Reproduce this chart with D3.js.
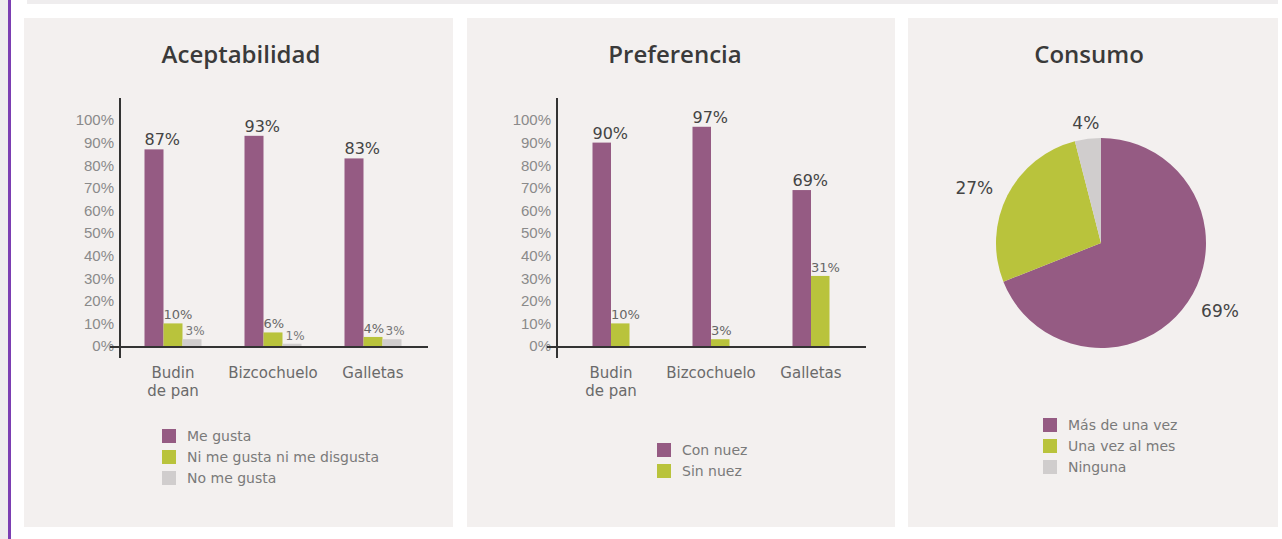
<!DOCTYPE html>
<html>
<head>
<meta charset="utf-8">
<script src="https://cdnjs.cloudflare.com/ajax/libs/d3/7.8.5/d3.min.js"></script>
<style>
body { margin: 0; background: #fff; }
svg { display: block; font-family: "DejaVu Sans", sans-serif; }
.title { font-family: "Open Sans", sans-serif; font-weight: 600; font-size: 24px; fill: #3a3a3a; }
.tick text { font-size: 15px; fill: #8a8a8a; }
.cat { font-size: 15px; fill: #6a6a6a; }
.legend text { font-size: 14px; fill: #7a7a7a; }
.pielabel { font-size: 17px; fill: #444; }
</style>
</head>
<body>
<svg id="chart" width="1282" height="539"></svg>
<script>
var categories = ["Budin de pan", "Bizcochuelo", "Galletas"];
var yTicks = [0, 10, 20, 30, 40, 50, 60, 70, 80, 90, 100];

var aceptSeries = ["Me gusta", "Ni me gusta ni me disgusta", "No me gusta"];
var meGusta = [87, 93, 83];
var niMeGusta = [10, 6, 4];
var noMeGusta = [3, 1, 3];

var prefSeries = ["Con nuez", "Sin nuez"];
var conNuez = [90, 97, 69];
var sinNuez = [10, 3, 31];

var consumoLabels = ["Más de una vez", "Una vez al mes", "Ninguna"];
var consumo = [69, 27, 4];

var colors = ["#955b83", "#b9c33c", "#d0cdcd"];
var labelSizes = ["16px", "13px", "12px"];
var labelFills = ["#444", "#666", "#777"];

var svg = d3.select("#chart");

// page decoration: grey strip + purple rule on the left, band on top
svg.append("rect").attr("x", 0).attr("y", 0).attr("width", 8).attr("height", 539).attr("fill", "#eeecee");
svg.append("rect").attr("x", 8).attr("y", 0).attr("width", 3).attr("height", 539).attr("fill", "#7b3eb2");
svg.append("rect").attr("x", 27).attr("y", 0).attr("width", 1251).attr("height", 4).attr("fill", "#efedee");

var panels = [[24, 453], [467, 895], [908, 1278]];
svg.selectAll("rect.panel")
    .data(panels)
  .enter().append("rect")
    .classed("panel", 1)
    .attr("x", function(d) { return d[0]; })
    .attr("y", 18)
    .attr("width", function(d) { return d[1] - d[0]; })
    .attr("height", 509)
    .attr("fill", "#f3f0ef");

var y = d3.scaleLinear().domain([0, 100]).range([346, 120]);

function legend(g, names, x, y0) {
    var rows = g.append("g").classed("legend", 1)
        .selectAll("g")
        .data(names)
      .enter().append("g")
        .attr("transform", function(d, i) { return "translate(" + x + "," + (y0 + i * 21) + ")"; });

    rows.append("rect")
        .attr("x", 0).attr("y", -7)
        .attr("width", 14).attr("height", 14)
        .attr("fill", function(d, i) { return colors[i]; });

    rows.append("text")
        .attr("x", 25).attr("dy", "0.35em")
        .text(function(d) { return d; });
}

function barChart(cfg) {
    var g = svg.append("g");

    g.append("text").classed("title", 1)
        .attr("x", cfg.titleX).attr("y", 63)
        .attr("text-anchor", "middle")
        .text(cfg.title);

    var x = d3.scaleBand()
        .domain(categories)
        .range(cfg.range)
        .paddingInner(cfg.padIn)
        .paddingOuter(cfg.padIn / 2);

    var xs = d3.scaleBand()
        .domain(d3.range(cfg.values.length))
        .range([0, x.bandwidth()]);

    var yAxis = g.append("g")
        .attr("transform", "translate(" + (cfg.axisX - 3) + ",0)")
        .call(d3.axisLeft(y).tickValues(yTicks).tickSize(0).tickPadding(3)
            .tickFormat(function(d) { return d + "%"; }));
    yAxis.select(".domain").remove();

    var series = g.selectAll("g.series")
        .data(cfg.values)
      .enter().append("g")
        .classed("series", 1);

    function rows(vals, si) {
        return vals.map(function(v, ci) { return {s: si, c: categories[ci], v: v}; });
    }

    series.selectAll("rect")
        .data(rows)
      .enter().append("rect")
        .attr("x", function(d) { return x(d.c) + xs(d.s); })
        .attr("y", function(d) { return y(d.v); })
        .attr("width", xs.bandwidth())
        .attr("height", function(d) { return y(0) - y(d.v); })
        .attr("fill", function(d) { return colors[d.s]; });

    series.selectAll("text")
        .data(rows)
      .enter().append("text")
        .attr("x", function(d) { return x(d.c) + xs(d.s) + (d.s == 2 ? 3 : 0); })
        .attr("y", function(d) { return y(d.v) - 4; })
        .style("font-size", function(d) { return labelSizes[d.s]; })
        .style("fill", function(d) { return labelFills[d.s]; })
        .text(function(d) { return d.v + "%"; });

    // axes lines, crossing like the original
    g.append("line")
        .attr("x1", cfg.axisX).attr("x2", cfg.axisX)
        .attr("y1", y(100) - 22).attr("y2", y(0) + 12)
        .attr("stroke", "#333").attr("stroke-width", 2);
    g.append("line")
        .attr("x1", cfg.axisX - 10).attr("x2", cfg.range[1] + 5)
        .attr("y1", y(0) + 1).attr("y2", y(0) + 1)
        .attr("stroke", "#333").attr("stroke-width", 2);

    var cats = g.selectAll("text.cat")
        .data(categories)
      .enter().append("text")
        .classed("cat", 1)
        .attr("text-anchor", "middle")
        .attr("transform", function(d) { return "translate(" + (x(d) + x.bandwidth() / 2) + "," + (y(0) + 32) + ")"; });

    cats.selectAll("tspan")
        .data(function(d) {
            var i = d.indexOf(" ");
            return i < 0 ? [d] : [d.slice(0, i), d.slice(i + 1)];
        })
      .enter().append("tspan")
        .attr("x", 0)
        .attr("dy", function(d, i) { return i ? "1.2em" : 0; })
        .text(function(d) { return d; });

    legend(g, cfg.series, cfg.legendX, cfg.legendY);
}

barChart({
    title: "Aceptabilidad", titleX: 241,
    axisX: 120, range: [123, 423], padIn: 0.43,
    series: aceptSeries, values: [meGusta, niMeGusta, noMeGusta],
    legendX: 162, legendY: 436
});

barChart({
    title: "Preferencia", titleX: 675,
    axisX: 557, range: [561, 861], padIn: 0.63,
    series: prefSeries, values: [conNuez, sinNuez],
    legendX: 657, legendY: 450
});

// Consumo pie
var pieG = svg.append("g");
pieG.append("text").classed("title", 1)
    .attr("x", 1089).attr("y", 63)
    .attr("text-anchor", "middle")
    .text("Consumo");

var radius = 105;
var pie = d3.pie().sort(null);
var arc = d3.arc().innerRadius(0).outerRadius(radius);
var labelArc = d3.arc().innerRadius(radius + 16).outerRadius(radius + 16);

var slices = pieG.append("g")
    .attr("transform", "translate(1101,243)")
    .selectAll("g")
    .data(pie(consumo))
  .enter().append("g");

slices.append("path")
    .attr("d", arc)
    .attr("fill", function(d, i) { return colors[i]; });

slices.append("text")
    .classed("pielabel", 1)
    .attr("transform", function(d) { return "translate(" + labelArc.centroid(d) + ")"; })
    .attr("dy", "0.35em")
    .attr("text-anchor", function(d) {
        var a = (d.startAngle + d.endAngle) / 2;
        var s = Math.sin(a);
        return Math.abs(s) < 0.3 ? "middle" : (s > 0 ? "start" : "end");
    })
    .text(function(d) { return d.value + "%"; });

legend(pieG, consumoLabels, 1043, 425);
</script>
</body>
</html>
